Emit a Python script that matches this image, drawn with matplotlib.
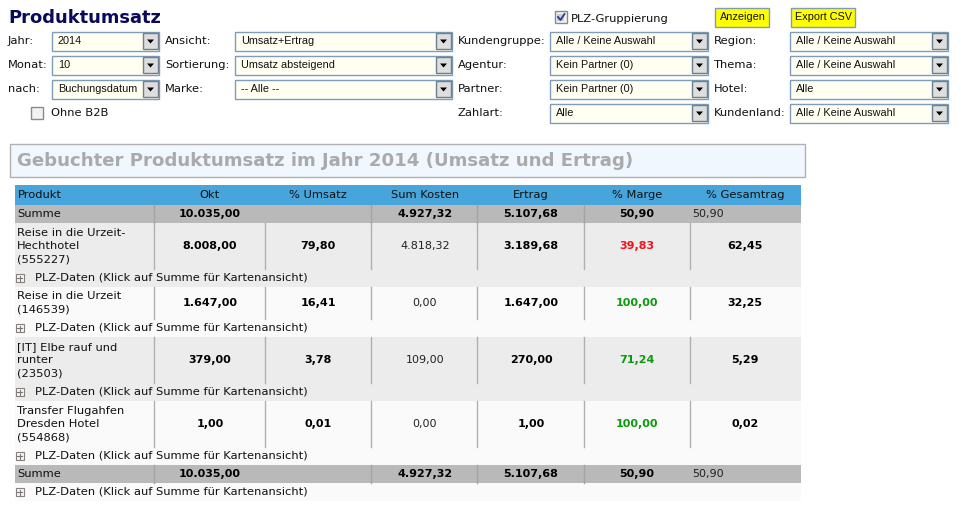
import matplotlib
matplotlib.use("Agg")
import matplotlib.pyplot as plt
from matplotlib.patches import Rectangle, Polygon

W, H = 962, 505
SANS = ["Verdana", "DejaVu Sans"]
NARROW = ["Liberation Sans", "DejaVu Sans"]

title = "Produktumsatz"
table_title = "Gebuchter Produktumsatz im Jahr 2014 (Umsatz und Ertrag)"
columns = ["Produkt", "Okt", "% Umsatz", "Sum Kosten", "Ertrag", "% Marge", "% Gesamtrag"]
sum_row = ["Summe", "10.035,00", "", "4.927,32", "5.107,68", "50,90", "50,90"]
products = ["Reise in die Urzeit-\nHechthotel\n(555227)", "Reise in die Urzeit\n(146539)",
            "[IT] Elbe rauf und\nrunter\n(23503)", "Transfer Flugahfen\nDresden Hotel\n(554868)"]
okt = ["8.008,00", "1.647,00", "379,00", "1,00"]
umsatz = ["79,80", "16,41", "3,78", "0,01"]
kosten = ["4.818,32", "0,00", "109,00", "0,00"]
ertrag = ["3.189,68", "1.647,00", "270,00", "1,00"]
marge = ["39,83", "100,00", "71,24", "100,00"]
gesamt = ["62,45", "32,25", "5,29", "0,02"]
marge_colors = ["#f5101e", "#0c9a0c", "#0c9a0c", "#0c9a0c"]
plz = "PLZ-Daten (Klick auf Summe für Kartenansicht)"

dropdowns = [
    ("Jahr:", 8, 52, 160, 41, "2014"), ("Monat:", 8, 52, 160, 65, "10"), ("nach:", 8, 52, 160, 89, "Buchungsdatum"),
    ("Ansicht:", 165, 235, 453, 41, "Umsatz+Ertrag"), ("Sortierung:", 165, 235, 453, 65, "Umsatz absteigend"),
    ("Marke:", 165, 235, 453, 89, "-- Alle --"),
    ("Kundengruppe:", 458, 550, 709, 41, "Alle / Keine Auswahl"), ("Agentur:", 458, 550, 709, 65, "Kein Partner (0)"),
    ("Partner:", 458, 550, 709, 89, "Kein Partner (0)"), ("Zahlart:", 458, 550, 709, 113, "Alle"),
    ("Region:", 714, 790, 949, 41, "Alle / Keine Auswahl"), ("Thema:", 714, 790, 949, 65, "Alle / Keine Auswahl"),
    ("Hotel:", 714, 790, 949, 89, "Alle"), ("Kundenland:", 714, 790, 949, 113, "Alle / Keine Auswahl"),
]

fig = plt.figure(figsize=(W / 100, H / 100), dpi=100, facecolor="white")
ax = fig.add_axes([0, 0, 1, 1])
ax.set_xlim(0, W)
ax.set_ylim(H, 0)
ax.axis("off")

def rect(x0, y0, x1, y1, fc, ec="none", lw=0, z=1):
    ax.add_patch(Rectangle((x0, y0), x1 - x0, y1 - y0, facecolor=fc, edgecolor=ec, linewidth=lw, zorder=z))

def txt(x, y, s, size=8.25, color="#111111", ha="left", weight="normal", family=SANS, **kw):
    ax.text(x, y, s, fontsize=size, color=color, ha=ha, va="center", fontweight=weight, family=family, zorder=5, **kw)

txt(8, 18, title, size=12.9, color="#0a0a5a", weight="bold")

for label, lx, x0, x1, yc, value in dropdowns:
    txt(lx, yc, label)
    rect(x0 + .5, yc - 9.5, x1 - .5, yc + 9.5, "#fffff2", "#7f9db9", 1, 2)
    rect(x1 - 17, yc - 8, x1 - 1.5, yc + 8, "#dedede", "#6f7f8f", 1, 3)
    ax.add_patch(Polygon([(x1 - 13, yc - 1.5), (x1 - 6, yc - 1.5), (x1 - 9.5, yc + 2.5)], facecolor="black", zorder=4))
    txt(x0 + 6, yc, value, size=7.8, family=NARROW, color="#111111")

def checkbox(x, y, checked=False):
    rect(x, y, x + 12, y + 12, "#f2f2f2", "#8a8a8a", 1, 2)
    if checked:
        rect(x + 2.5, y + 2.5, x + 9.5, y + 9.5, "#c4cde8", z=3)
        ax.plot([x + 3, x + 5.5, x + 9.5], [y + 6, y + 9, y + 3], color="#2a3a7a", lw=1.3, zorder=4)

checkbox(31, 107)
txt(51, 113, "Ohne B2B")
checkbox(555, 11, True)
txt(571, 19, "PLZ-Gruppierung")
for x0, x1, s in [(715, 770, "Anzeigen"), (791, 856, "Export CSV")]:
    rect(x0 + .5, 7.5, x1 - .5, 26.5, "#ffff00", "#7f9db9", 1, 2)
    txt((x0 + x1) / 2, 16.5, s, size=7.8, family=NARROW, ha="center", color="#111111")

rect(10.5, 143.5, 805.5, 177, "#f0f7ff", "#b0b0b0", 1)
txt(17, 161, table_title, size=13.1, color="#aaaaaa", weight="bold")

L, R = 15, 801
col_x = [15, 154, 265, 371, 477, 584, 690]
col_c = [None, 210, 318, 425, 531, 637, 745]

rect(L, 185, R, 205, "#48a5db")
txt(18, 195, columns[0])
for c, s in zip(col_c[1:], columns[1:]):
    txt(c, 195, s, ha="center")

def sum_band(y0, y1):
    rect(L, y0, R, y1, "#b9b9b9")
    txt(17, (y0 + y1) / 2, sum_row[0])
    for c, s in zip(col_c[1:5], sum_row[1:5]):
        txt(c, (y0 + y1) / 2, s, size=8.0, ha="center", weight="bold", color="black")
    txt(col_c[5], (y0 + y1) / 2, sum_row[5], size=8.0, ha="center", weight="bold", color="black")
    txt(692, (y0 + y1) / 2, sum_row[6], size=8.0, color="#222222")
    for x in [154, 371, 477, 584]:
        ax.plot([x + .5, x + .5], [y0, y1], color="#a4a4a4", lw=1, zorder=2)

def plz_line(y):
    rect(16, y - 4, 24, y + 4, "#f6f6f6", "#8a7f7f", .8, 2)
    ax.plot([17.5, 22.5], [y, y], color="#777777", lw=.8, zorder=3)
    ax.plot([20, 20], [y - 2.5, y + 2.5], color="#777777", lw=.8, zorder=3)
    txt(35, y, plz)

sum_band(205, 223)

rows = [(223, 269, 287, "#ececec"), (287, 319, 337, "#fafafa"), (337, 383, 401, "#ececec"), (401, 447, 465, "#fafafa")]
for i, (y0, y1, y2, bg) in enumerate(rows):
    rect(L, y0, R, y2, bg)
    yc = (y0 + y1) / 2
    ax.text(17, yc, products[i], fontsize=8.25, color="#111111", family=SANS, va="center", ha="left",
            linespacing=1.42, zorder=5)
    for c, s in [(col_c[1], okt[i]), (col_c[2], umsatz[i]), (col_c[4], ertrag[i]), (col_c[6], gesamt[i])]:
        txt(c, yc, s, size=8.0, ha="center", weight="bold", color="black")
    txt(col_c[3], yc, kosten[i], size=8.0, ha="center", color="#222222")
    txt(col_c[5], yc, marge[i], size=8.0, ha="center", weight="bold", color=marge_colors[i])
    for x in col_x[1:]:
        ax.plot([x + .5, x + .5], [y0, y1], color="#b0b0b0", lw=1, zorder=2)
    plz_line((y1 + y2) / 2)

sum_band(465, 483)
rect(L, 483, R, 501, "#fafafa")
plz_line(492)

fig.savefig("out.png", dpi=100, facecolor="white")
